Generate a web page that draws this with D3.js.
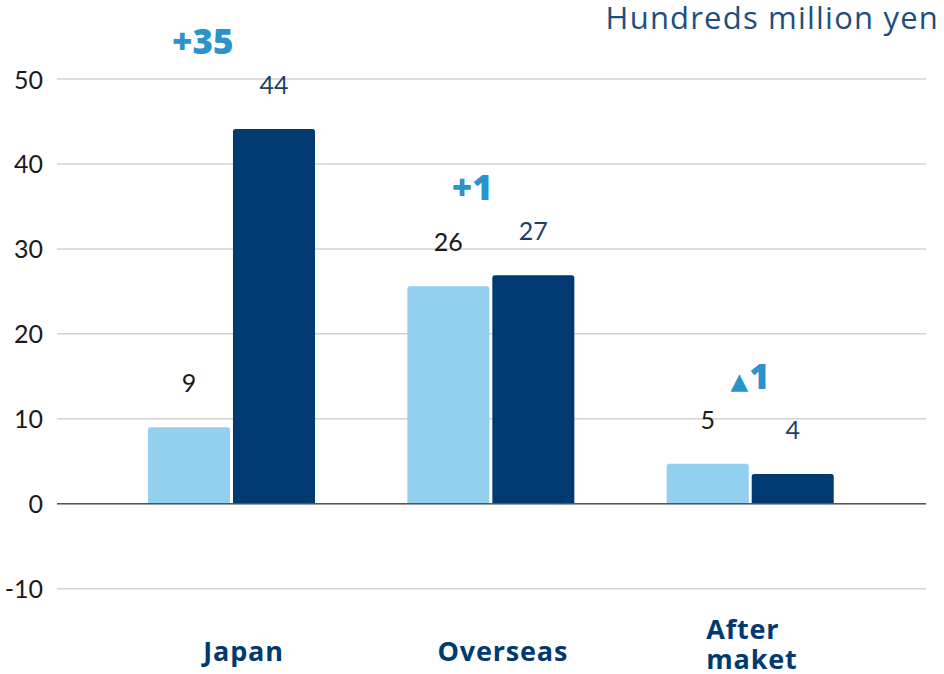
<!DOCTYPE html>
<html>
<head>
<meta charset="utf-8">
<script src="https://cdn.jsdelivr.net/npm/d3@7"></script>
<style>
  html, body { margin: 0; padding: 0; background: #ffffff; }
  svg { display: block; }
</style>
</head>
<body>
<svg id="chart" width="944" height="674"></svg>
<script>
// Sales by region, two periods (hundreds of millions of yen)
const categories = ["Japan", "Overseas", "After maket"];
const seriesNames = ["prev", "curr"];
const prevValues = [9.0, 25.6, 4.7];
const currValues = [44.1, 26.9, 3.5];
const yTicks = [-10, 0, 10, 20, 30, 40, 50];
const unitLabel = "Hundreds million yen";

const colors = { prev: "#93cfee", curr: "#003a70" };
const labelColors = { prev: "#1a1a1a", curr: "#1d3f66" };
const numFont = "Lato, 'Liberation Sans', sans-serif";
const textFont = "'Open Sans', 'Noto Sans', sans-serif";

const rows = categories.map((c, i) => ({ cat: c, prev: prevValues[i], curr: currValues[i] }));

const svg = d3.select("#chart");

const y = d3.scaleLinear().domain([-10, 50]).range([588.7, 79]);
const x0 = d3.scaleBand().domain(categories).range([101.8, 879.9]).padding(0);
const groupW = 167;
const x1 = d3.scaleBand().domain(seriesNames).range([-groupW / 2, groupW / 2]).paddingInner(0.035);
const gridX = [57, 926];

// gridlines
svg.append("g").selectAll("line").data(yTicks).join("line")
  .attr("x1", gridX[0]).attr("x2", gridX[1])
  .attr("y1", d => y(d)).attr("y2", d => y(d))
  .attr("stroke", "#d3d3d3").attr("stroke-width", 1.5);

// y axis labels (plain hyphen for negatives)
const yAxis = d3.axisLeft(y).tickValues(yTicks).tickSize(0).tickPadding(0).tickFormat(d => String(d));
svg.append("g").attr("transform", "translate(43,0)").call(yAxis)
  .call(g => g.select(".domain").remove())
  .call(g => g.selectAll("text")
    .attr("font-family", numFont).attr("font-size", 25)
    .attr("fill", "#1a1a1a").attr("dy", "0.36em"));

// bars with slightly rounded top corners
function barPath(x, w, top, base) {
  const r = Math.min(2.5, (base - top) / 2);
  return `M${x},${base}V${top + r}Q${x},${top} ${x + r},${top}H${x + w - r}Q${x + w},${top} ${x + w},${top + r}V${base}Z`;
}

const groups = svg.append("g").selectAll("g").data(rows).join("g")
  .attr("transform", d => `translate(${x0(d.cat) + x0.bandwidth() / 2},0)`);

groups.selectAll("path").data(d => seriesNames.map(s => ({ s, v: d[s] }))).join("path")
  .attr("d", d => barPath(x1(d.s), x1.bandwidth(), y(d.v), y(0)))
  .attr("fill", d => colors[d.s]);

// value labels
groups.selectAll("text.val").data(d => seriesNames.map(s => ({ s, v: d[s] }))).join("text")
  .attr("class", "val")
  .attr("x", d => x1(d.s) + x1.bandwidth() / 2)
  .attr("y", d => y(d.v) - 35)
  .attr("text-anchor", "middle")
  .attr("font-family", numFont).attr("font-size", 25)
  .attr("fill", d => labelColors[d.s])
  .text(d => d3.format(".0f")(d.v));

// zero line on top of gridlines
svg.append("line")
  .attr("x1", gridX[0]).attr("x2", gridX[1])
  .attr("y1", y(0)).attr("y2", y(0))
  .attr("stroke", "#555555").attr("stroke-width", 1.5);

// change labels (▲ marks a decrease)
const delta = groups.append("text")
  .attr("y", d => y(Math.max(d.prev, d.curr)) - 75)
  .attr("font-family", textFont).attr("font-weight", 800)
  .attr("font-size", 35).attr("fill", "#2b93cb");
delta.each(function (d) {
  const diff = Math.round(d.curr) - Math.round(d.prev);
  const t = d3.select(this);
  if (diff < 0) {
    t.attr("x", 0).attr("text-anchor", "middle");
    t.append("tspan").attr("font-family", "'DejaVu Sans', sans-serif")
      .attr("font-size", 23).text("▲");
    t.append("tspan").attr("dx", 1).text(Math.abs(diff));
  } else {
    t.attr("x", 2).attr("text-anchor", "end").text("+" + diff);
  }
});

// category labels
groups.each(function (d) {
  const g = d3.select(this);
  const words = d.cat.split(" ");
  const base = g.append("text")
    .attr("font-family", textFont).attr("font-weight", 700)
    .attr("font-size", 27).attr("letter-spacing", 0.8)
    .attr("fill", "#003a70");
  if (words.length === 1) {
    base.attr("x", 12).attr("y", 661).attr("text-anchor", "middle").text(d.cat);
  } else {
    base.attr("y", 639);
    words.forEach((w, i) => base.append("tspan").attr("x", -44).attr("dy", i ? 30 : 0).text(w));
  }
});

// unit label
svg.append("text")
  .attr("x", 939).attr("y", 29)
  .attr("text-anchor", "end")
  .attr("font-family", textFont).attr("font-size", 31)
  .attr("letter-spacing", 1.2)
  .attr("fill", "#1f4e7d")
  .text(unitLabel);
</script>
</body>
</html>
